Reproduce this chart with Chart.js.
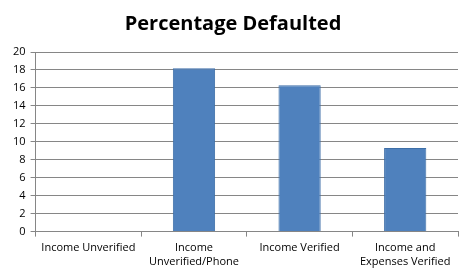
<!DOCTYPE html>
<html>
<head>
<meta charset="utf-8">
<script src="https://cdn.jsdelivr.net/npm/chart.js@4/dist/chart.umd.min.js"></script>
<style>
  html, body { margin: 0; padding: 0; background: #fff; }
  #wrap { width: 468px; height: 277px; }
</style>
</head>
<body>
<div id="wrap"><canvas id="chart" width="468" height="277"></canvas></div>
<script>
// ── Data ─────────────────────────────────────────────────────────────────────
const categories = [
  'Income Unverified',
  ['Income', 'Unverified/Phone'],
  'Income Verified',
  ['Income and', 'Expenses Verified']
];
const defaulted = [0, 18.2, 16.3, 9.3];
const yTicks    = [0, 2, 4, 6, 8, 10, 12, 14, 16, 18, 20];

const FONT = "'Open Sans', 'Noto Sans', sans-serif";

new Chart(document.getElementById('chart'), {
  type: 'bar',
  data: {
    labels: categories,
    datasets: [{
      label: 'Percentage Defaulted',
      data: defaulted,
      backgroundColor: '#4F81BD',
      borderColor: '#3E6FA8',
      borderWidth: 1,
      categoryPercentage: 1,
      barPercentage: 0.4
    }]
  },
  options: {
    responsive: false,
    animation: false,
    layout: { padding: { left: 8, right: 10, top: 12, bottom: 4 } },
    plugins: {
      legend: { display: false },
      tooltip: { enabled: false },
      title: {
        display: true,
        text: 'Percentage Defaulted',
        color: '#000',
        font: { family: FONT, size: 20, weight: 'bold' },
        padding: { top: 0, bottom: 16 }
      }
    },
    scales: {
      x: {
        offset: true,
        grid: {
          offset: true,
          drawOnChartArea: false,
          drawTicks: true,
          tickLength: 5,
          color: '#868686'
        },
        border: { color: '#868686' },
        ticks: {
          color: '#000',
          font: { family: FONT, size: 11 },
          maxRotation: 0,
          autoSkip: false,
          padding: 5
        }
      },
      y: {
        min: 0,
        max: 20,
        afterBuildTicks: axis => { axis.ticks = yTicks.map(v => ({ value: v })); },
        grid: { color: '#868686', tickLength: 5 },
        border: { color: '#868686' },
        ticks: {
          color: '#000',
          font: { family: FONT, size: 11 },
          padding: 5
        }
      }
    }
  }
});
</script>
</body>
</html>
